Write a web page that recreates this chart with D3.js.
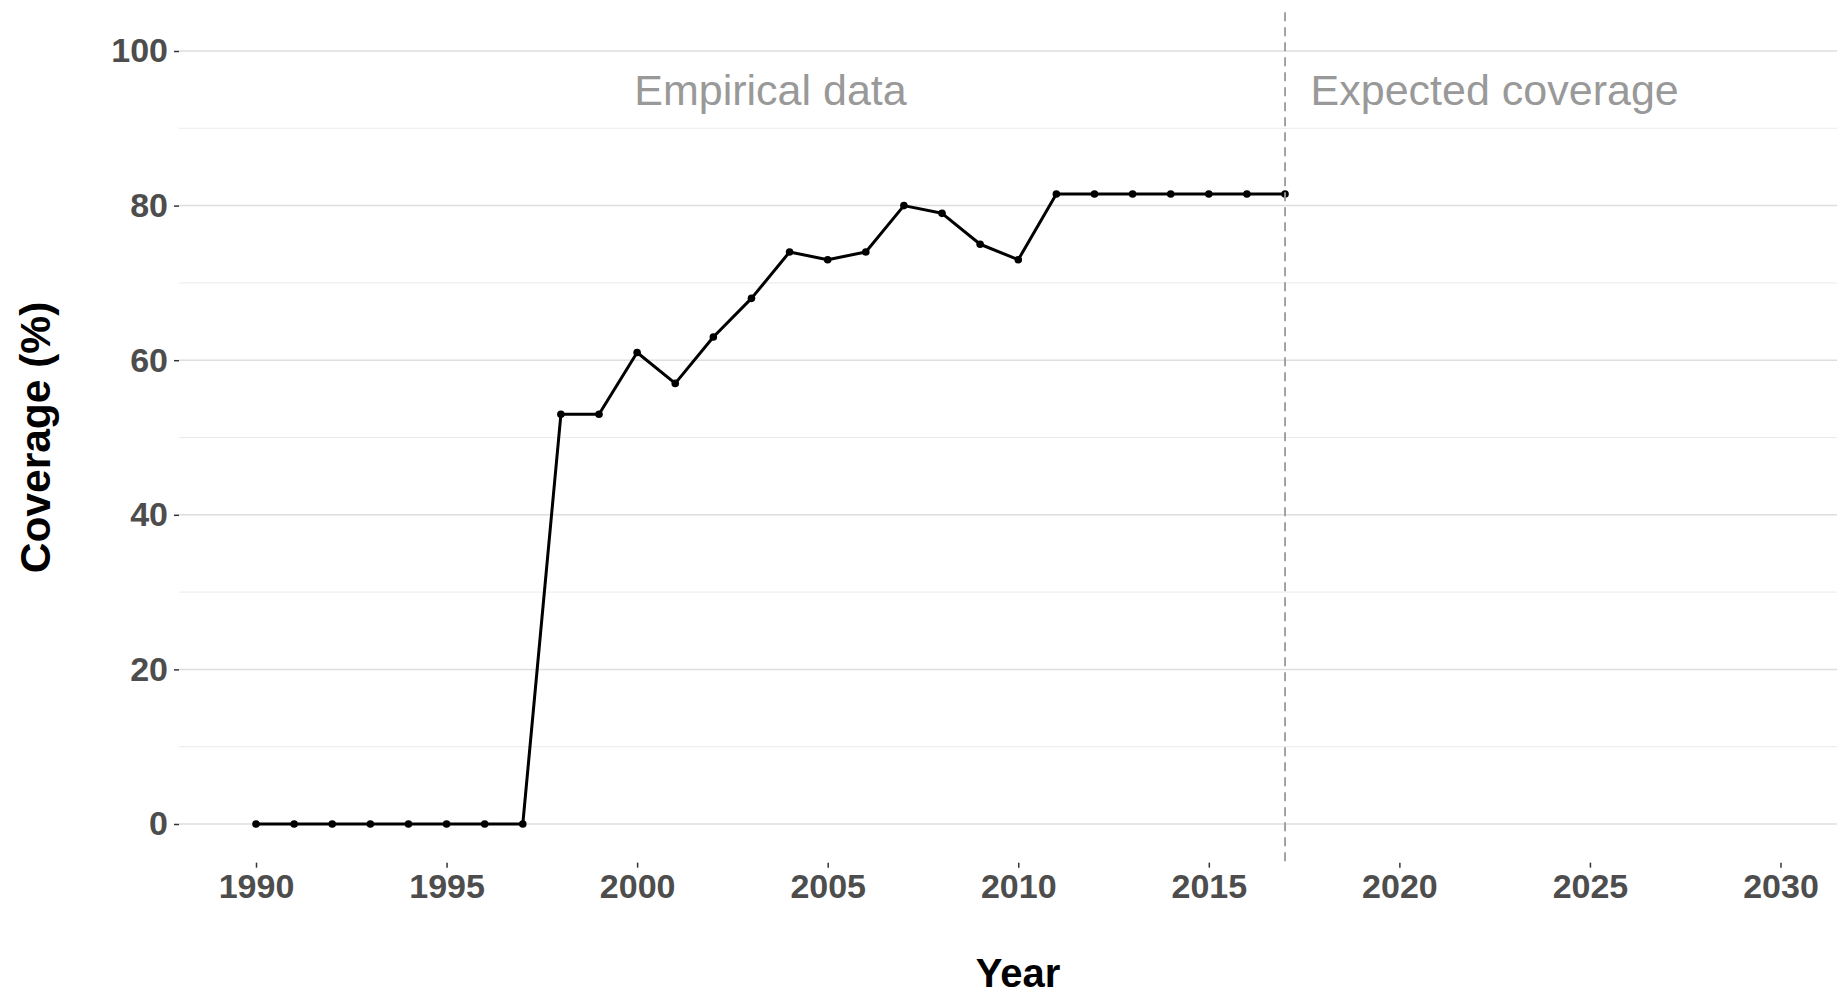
<!DOCTYPE html>
<html>
<head>
<meta charset="utf-8">
<script src="https://cdn.jsdelivr.net/npm/d3@7"></script>
<style>
  body { margin: 0; background: #fff; }
  text { font-family: "Liberation Sans", Arial, sans-serif; }
</style>
</head>
<body>
<div id="chart"></div>
<script>
// data
const years = d3.range(1990, 2018);
const coverage = [0, 0, 0, 0, 0, 0, 0, 0, 53, 53, 61, 57, 63, 68, 74, 73, 74, 80, 79, 75, 73,
                  81.5, 81.5, 81.5, 81.5, 81.5, 81.5, 81.5];
const xTicks = [1990, 1995, 2000, 2005, 2010, 2015, 2020, 2025, 2030];
const yTicks = [0, 20, 40, 60, 80, 100];
const yMinor = [10, 30, 50, 70, 90];
const cutYear = 2017;
const notes = [
  { label: "Empirical data", year: 2003.5, value: 95 },
  { label: "Expected coverage", year: 2022.5, value: 95 }
];

const width = 1837, height = 994;

const svg = d3.select("#chart").append("svg")
  .attr("width", width)
  .attr("height", height);

let x = d3.scaleLinear().domain([1990, 2030]).range([256, 1780.5]);
let y = d3.scaleLinear().domain([0, 100]).range([824, 51]);

const panelLeft = x(1987.98), panelRight = width;
const panelTop = y(105), panelBottom = y(-5);

// grid
svg.append("g").selectAll("line").data(yMinor).enter().append("line")
  .attr("x1", panelLeft).attr("x2", panelRight)
  .attr("y1", d => y(d)).attr("y2", d => y(d))
  .attr("stroke", "#ebebeb").attr("stroke-width", 1);

svg.append("g").selectAll("line").data(yTicks).enter().append("line")
  .attr("x1", panelLeft).attr("x2", panelRight)
  .attr("y1", d => y(d)).attr("y2", d => y(d))
  .attr("stroke", "#dedede").attr("stroke-width", 1.5);

// axes
let yAxis = d3.axisLeft(y).tickValues(yTicks).tickSize(5).tickPadding(6);
let gy = svg.append("g").attr("transform", `translate(${panelLeft},0)`).call(yAxis);
gy.select(".domain").remove();
gy.selectAll(".tick line").attr("stroke", "#333").attr("stroke-width", 1.5);
gy.selectAll(".tick text")
  .attr("fill", "#4d4d4d")
  .style("font-size", "34px")
  .style("font-weight", "bold");

let xAxis = d3.axisBottom(x).tickValues(xTicks).tickFormat(d3.format("d")).tickSize(5).tickPadding(6);
let gx = svg.append("g").attr("transform", `translate(0,${panelBottom})`).call(xAxis);
gx.select(".domain").remove();
gx.selectAll(".tick line").attr("stroke", "#333").attr("stroke-width", 1.5);
gx.selectAll(".tick text")
  .attr("fill", "#4d4d4d")
  .style("font-size", "34px")
  .style("font-weight", "bold");

// axis titles
svg.append("text")
  .attr("x", 1018)
  .attr("y", 987)
  .attr("text-anchor", "middle")
  .style("font-size", "40px")
  .style("font-weight", "bold")
  .text("Year");

svg.append("text")
  .attr("transform", `translate(50,${(panelTop + panelBottom) / 2}) rotate(-90)`)
  .attr("text-anchor", "middle")
  .style("font-size", "42.5px")
  .style("font-weight", "bold")
  .text("Coverage (%)");

// annotations
svg.append("g").selectAll("text").data(notes).enter().append("text")
  .attr("x", d => x(d.year))
  .attr("y", d => y(d.value))
  .attr("dy", "0.36em")
  .attr("text-anchor", "middle")
  .attr("fill", "#999999")
  .style("font-size", "43px")
  .text(d => d.label);

// line + points
const pts = years.map((yr, i) => ({ year: yr, value: coverage[i] }));
let line = d3.line().x(d => x(d.year)).y(d => y(d.value));

svg.append("path")
  .datum(pts)
  .attr("d", line)
  .attr("fill", "none")
  .attr("stroke", "#000")
  .attr("stroke-width", 3)
  .attr("stroke-linejoin", "round");

svg.append("g").selectAll("circle").data(pts).enter().append("circle")
  .attr("cx", d => x(d.year))
  .attr("cy", d => y(d.value))
  .attr("r", 3.8)
  .attr("fill", "#000");

// cut-off line
svg.append("line")
  .attr("x1", x(cutYear)).attr("x2", x(cutYear))
  .attr("y1", panelTop).attr("y2", panelBottom)
  .attr("stroke", "#999")
  .attr("stroke-width", 1.8)
  .attr("stroke-dasharray", "9,6");
</script>
</body>
</html>
